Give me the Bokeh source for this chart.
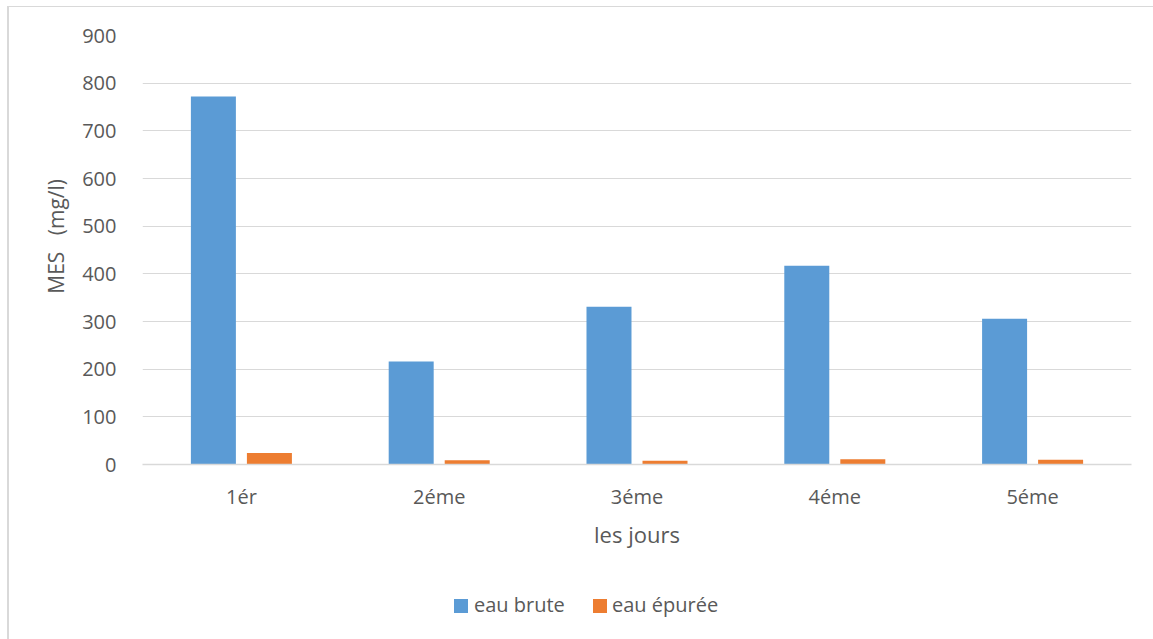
from bokeh.plotting import figure
from bokeh.layouts import column
from bokeh.models import ColumnDataSource, FixedTicker, Div
from bokeh.transform import dodge
from bokeh.embed import file_html
from bokeh.resources import INLINE

# MES measured over five days (mg/l)
jours = ["1ér", "2éme", "3éme", "4éme", "5éme"]
eau_brute = [772, 216, 331, 417, 306]
eau_epuree = [24, 9, 8, 11, 10]
series_names = ["eau brute", "eau épurée"]

BLUE = "#5B9BD5"
ORANGE = "#ED7D31"
TEXT = "#595959"
GRID = "#D9D9D9"
FONT = "Open Sans"

source = ColumnDataSource(dict(jours=jours, brute=eau_brute, epuree=eau_epuree))

p = figure(
    x_range=jours, y_range=(0, 900),
    width=1144, height=560,
    output_backend="svg", toolbar_location=None,
    min_border_left=133, min_border_right=22,
    min_border_top=28, min_border_bottom=103,
)
p.outline_line_color = None
p.background_fill_color = "white"
p.border_fill_color = "white"

p.vbar(x=dodge("jours", -0.1416, range=p.x_range), top="brute", width=0.2275,
       source=source, fill_color=BLUE, line_color=None)
p.vbar(x=dodge("jours", 0.1416, range=p.x_range), top="epuree", width=0.2275,
       source=source, fill_color=ORANGE, line_color=None)

# y axis
p.yaxis.ticker = FixedTicker(ticks=list(range(0, 1000, 100)))
p.yaxis.axis_line_color = None
p.yaxis.major_tick_line_color = None
p.yaxis.minor_tick_line_color = None
p.yaxis.major_label_text_font = FONT
p.yaxis.major_label_text_font_size = "20px"
p.yaxis.major_label_text_color = TEXT
p.yaxis.major_label_standoff = 20
p.yaxis.axis_label = "\u00a0\u00a0\u00a0\u00a0\u00a0MES\u00a0\u00a0\u00a0(mg/l)"
p.yaxis.axis_label_text_font = FONT
p.yaxis.axis_label_text_font_size = "21px"
p.yaxis.axis_label_text_font_style = "normal"
p.yaxis.axis_label_text_color = TEXT
p.yaxis.axis_label_standoff = 9

# x axis
p.xaxis.axis_line_color = GRID
p.xaxis.axis_line_width = 1.5
p.xaxis.major_tick_line_color = None
p.xaxis.minor_tick_line_color = None
p.xaxis.major_label_text_font = FONT
p.xaxis.major_label_text_font_size = "20px"
p.xaxis.major_label_text_color = TEXT
p.xaxis.major_label_standoff = 12
p.xaxis.axis_label = "les jours"
p.xaxis.axis_label_text_font = FONT
p.xaxis.axis_label_text_font_size = "22px"
p.xaxis.axis_label_text_font_style = "normal"
p.xaxis.axis_label_text_color = TEXT
p.xaxis.axis_label_standoff = 6

p.xgrid.grid_line_color = None
p.ygrid.grid_line_color = GRID
p.ygrid.grid_line_width = 1

# legend strip under the chart
swatch = "position:absolute;top:27px;width:14px;height:14px;"
label = "position:absolute;top:23px;line-height:20px;white-space:nowrap;"
legend_html = (
    f'<div style="position:relative;width:1144px;height:72px;'
    f"font-family:'{FONT}';font-size:20px;color:{TEXT};\">"
    f'<span style="{swatch}left:440px;background:{BLUE};"></span>'
    f'<span style="{label}left:460px;">{series_names[0]}</span>'
    f'<span style="{swatch}left:579px;background:{ORANGE};"></span>'
    f'<span style="{label}left:598px;">{series_names[1]}</span>'
    "</div>"
)
legend_div = Div(text=legend_html, width=1144, height=72)

layout = column(
    p, legend_div,
    margin=(6, 0, 0, 7),
    styles={"border-left": "2px solid #D9D9D9", "border-top": "1px solid #D9D9D9",
            "background": "white"},
)

open("out.html", "w").write(file_html(layout, INLINE))
